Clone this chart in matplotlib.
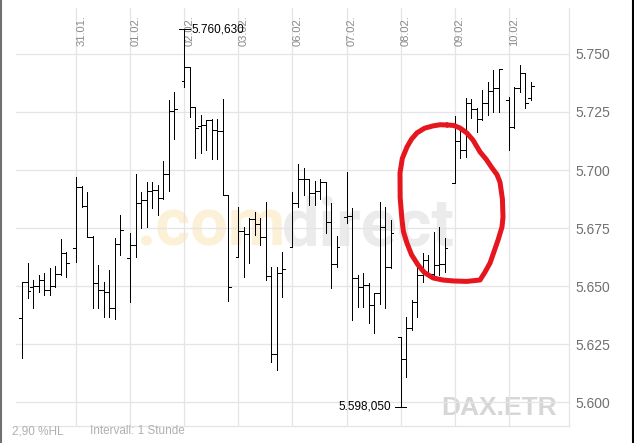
import numpy as np
import matplotlib
matplotlib.use("Agg")
import matplotlib.pyplot as plt
from matplotlib.lines import Line2D
import matplotlib.transforms as mtrans

plt.rcParams['font.family'] = ['Liberation Sans', 'DejaVu Sans']

# hourly OHLC bars, DAX.ETR
day_labels = ["30.01.", "31.01.", "01.02.", "02.02.", "03.02.",
              "06.02.", "07.02.", "08.02.", "09.02.", "10.02."]
bars_per_day = [9, 9, 9, 9, 9, 9, 9, 9, 9, 5]

opens = [5636.1, 5651.9, 5649.7, 5650.0, 5652.6, 5648.3, 5650.0, 5655.2, 5664.4,
         5666.4, 5692.7, 5684.5, 5671.3, 5651.4, 5648.3, 5647.6, 5640.4, 5668.3,
         5661.9, 5667.7, 5685.9, 5687.1, 5691.1, 5691.4, 5687.8, 5698.3, 5725.6,
         5738.4, 5744.5, 5727.0, 5719.0, 5719.4, 5721.6, 5717.2, 5716.9, 5689.2,
         5662.4, 5673.8, 5672.3, 5678.8, 5676.7, 5671.0, 5654.5, 5620.8, 5655.6,
         5666.9, 5685.7, 5696.0, 5696.0, 5690.0, 5691.1, 5695.0, 5677.7, 5659.5,
         5679.9, 5680.2, 5653.6, 5649.7, 5650.4, 5641.8, 5646.9, 5675.3, 5658.1,
         5627.9, 5618.4, 5631.8, 5643.2, 5654.7, 5661.2, 5655.2, 5659.1, 5659.5,
         5694.3, 5712.6, 5708.6, 5728.8, 5726.3, 5721.9, 5728.8, 5734.1, 5735.2,
         5730.2, 5718.7, 5735.2, 5741.7, 5731.0]
highs = [5651.9, 5659.8, 5652.6, 5654.7, 5655.5, 5657.6, 5658.6, 5670.1, 5664.6,
         5697.0, 5693.0, 5690.7, 5671.6, 5659.1, 5651.9, 5656.9, 5670.7, 5680.6,
         5672.9, 5698.3, 5690.7, 5695.0, 5695.0, 5693.5, 5704.0, 5730.2, 5733.8,
         5760.63, 5744.5, 5727.0, 5723.7, 5721.6, 5722.0, 5722.0, 5730.5, 5689.2,
         5684.1, 5675.6, 5679.3, 5682.0, 5679.3, 5686.2, 5658.3, 5658.3, 5664.8,
         5690.7, 5702.6, 5700.7, 5696.2, 5695.4, 5696.0, 5695.0, 5685.9, 5671.6,
         5699.3, 5683.5, 5654.7, 5655.7, 5651.4, 5647.0, 5686.3, 5684.2, 5678.5,
         5628.2, 5636.8, 5644.0, 5659.8, 5664.1, 5663.4, 5673.4, 5675.6, 5670.6,
         5723.3, 5717.2, 5730.9, 5730.5, 5726.7, 5734.5, 5737.9, 5742.9, 5743.4,
         5731.6, 5735.8, 5745.3, 5741.7, 5738.1]
lows = [5618.8, 5644.7, 5640.4, 5647.6, 5646.1, 5646.1, 5649.7, 5654.7, 5653.8,
        5660.4, 5684.1, 5671.3, 5640.5, 5640.5, 5636.6, 5636.8, 5635.8, 5663.4,
        5643.2, 5662.6, 5674.9, 5675.6, 5683.5, 5680.6, 5687.5, 5691.1, 5713.2,
        5735.9, 5723.0, 5705.0, 5707.2, 5708.6, 5704.7, 5704.6, 5689.2, 5643.7,
        5662.4, 5654.0, 5659.8, 5672.0, 5667.7, 5652.6, 5617.4, 5613.8, 5645.3,
        5666.9, 5683.9, 5689.2, 5684.9, 5684.9, 5687.4, 5672.7, 5649.0, 5658.1,
        5677.0, 5635.4, 5641.1, 5641.1, 5633.9, 5629.8, 5642.2, 5640.4, 5657.6,
        5598.05, 5610.9, 5631.0, 5636.8, 5651.9, 5654.0, 5654.7, 5654.7, 5656.2,
        5694.3, 5705.0, 5705.7, 5722.3, 5716.5, 5721.6, 5723.7, 5725.1, 5725.0,
        5708.6, 5718.0, 5733.6, 5726.6, 5730.2]
closes = [5651.9, 5648.0, 5650.0, 5652.6, 5648.3, 5650.0, 5655.2, 5664.4, 5659.8,
          5692.7, 5684.5, 5671.3, 5651.4, 5648.3, 5647.6, 5640.4, 5668.3, 5674.1,
          5667.7, 5685.9, 5687.1, 5691.1, 5691.4, 5687.8, 5698.3, 5725.6, 5726.2,
          5744.5, 5727.0, 5718.0, 5719.4, 5721.6, 5717.2, 5716.9, 5689.2, 5649.4,
          5673.8, 5672.3, 5678.8, 5676.7, 5671.0, 5654.5, 5620.8, 5655.6, 5657.2,
          5685.7, 5696.0, 5696.0, 5690.0, 5691.1, 5695.0, 5677.7, 5659.5, 5666.7,
          5680.2, 5653.6, 5649.7, 5650.4, 5641.8, 5646.9, 5675.3, 5658.1, 5672.7,
          5618.4, 5631.8, 5643.2, 5654.7, 5661.2, 5655.2, 5659.1, 5659.5, 5666.3,
          5712.6, 5708.6, 5728.8, 5726.3, 5721.9, 5728.8, 5734.1, 5735.2, 5743.4,
          5718.7, 5735.2, 5741.7, 5728.9, 5736.3]

y_ticks = [5600, 5625, 5650, 5675, 5700, 5725, 5750]
high_label = "5.760,630"
low_label = "5.598,050"

# hand drawn red loop (day position, index value)
circle_x = [7.856, 7.98, 8.096, 8.22, 8.336, 8.466, 8.58, 8.688, 8.78, 8.835, 8.88, 8.891,
            8.872, 8.799, 8.72, 8.651, 8.558, 8.466, 8.22, 7.967, 7.78, 7.597, 7.44,
            7.320, 7.20, 7.116, 7.05, 7.024, 6.99, 6.987, 7.03, 7.116, 7.20, 7.301,
            7.44, 7.597, 7.73, 7.856]
circle_y = [5719.4, 5719.2, 5718.1, 5716.0, 5712.9, 5707.8, 5704.6, 5700.9, 5698.0, 5694.8,
            5687.5, 5679.7, 5675.4, 5669.8, 5664.5, 5659.9, 5656.0, 5652.6, 5652.0, 5652.2,
            5652.6, 5653.5, 5655.8, 5659.1, 5663.5, 5668.5, 5673.5, 5678.5, 5688.0, 5698.7,
            5705.0, 5709.9, 5713.3, 5716.0, 5718.0, 5719.0, 5719.5, 5719.4]

# bar positions: one slot per trading hour
step = 0.1017
x = []
for d, n in enumerate(bars_per_day):
    for i in range(n):
        x.append(d + i * step)
x = np.array(x)
half = 0.05

fig = plt.figure(figsize=(6.34, 4.43), dpi=100)
ax = fig.add_axes([16 / 634, 17 / 443, 553 / 634, 418 / 443])
ax.set_xlim(-0.111, 10.111)
ax.set_ylim(5589.7, 5769.8)

grid_col = '#e4e4e4'
ax.set_xticks(range(1, len(day_labels)))
ax.set_yticks(y_ticks)
ax.set_yticklabels([f"{v:,.0f}".replace(",", ".") for v in y_ticks])
ax.yaxis.tick_right()
ax.tick_params(axis='x', length=0, labelbottom=False)
ax.tick_params(axis='y', length=0, pad=4.5, labelsize=10, labelcolor='#707070')
ax.grid(True, color=grid_col, lw=0.9, zorder=0)
for s in ['left', 'top']:
    ax.spines[s].set_visible(False)
for s in ['right', 'bottom']:
    ax.spines[s].set_color(grid_col)
    ax.spines[s].set_linewidth(0.9)

# watermark
ax.text(0.219, 0.433, ".com", transform=ax.transAxes, fontsize=48, fontweight='bold',
        family='Roboto', color='#fcf0d6', va='baseline', ha='left', zorder=0)
ax.text(0.481, 0.433, "direct", transform=ax.transAxes, fontsize=48, fontweight='bold',
        family='Roboto', color='#ebebeb', va='baseline', ha='left', zorder=0)
ax.text(0.978, 0.026, "DAX.ETR", transform=ax.transAxes, fontsize=19, fontweight='bold',
        color='#d6d6d6', va='baseline', ha='right', zorder=0)

# date labels at the top, inside the plot
trans = mtrans.blended_transform_factory(ax.transData, ax.transAxes)
for d, lab in enumerate(day_labels):
    if d == 0:
        continue
    ax.text(d + 0.005, 0.983, lab, transform=trans, rotation=90, ha='left', va='top',
            fontsize=8, color='#8a8a8a')

# OHLC bars
ax.vlines(x, lows, highs, color='black', lw=0.6, zorder=3, antialiased=False)
ax.hlines(opens, x - half, x, color='black', lw=0.6, zorder=3, antialiased=False)
ax.hlines(closes, x, x + half, color='black', lw=0.6, zorder=3, antialiased=False)

# high / low markers
ih = int(np.argmax(highs))
il = int(np.argmin(lows))
ax.hlines(highs[ih], x[ih] - 0.1, x[ih] + 0.1, color='black', lw=0.6, zorder=3, antialiased=False)
ax.text(x[ih] + 0.14, highs[ih], high_label, fontsize=8.5, va='center', ha='left', zorder=4)
ax.hlines(lows[il], x[il] - 0.1, x[il] + 0.1, color='black', lw=0.6, zorder=3, antialiased=False)
ax.text(x[il] - 0.18, lows[il], low_label, fontsize=8.5, va='center', ha='right', zorder=4)

# red loop
ax.plot(circle_x, circle_y, color='#e5161d', lw=3.6, solid_joinstyle='round',
        solid_capstyle='round', zorder=6)

# footer
fig.text(12 / 634, 1 - 431 / 443, "2,90 %HL", fontsize=8.5, color='#b0b0b0', va='center')
fig.text(90 / 634, 1 - 431 / 443, "Intervall: 1 Stunde", fontsize=8.5, color='#b0b0b0', va='center')

# image frame edges
fig.add_artist(Line2D([0.8 / 634, 0.8 / 634], [0, 1], color='#707070', lw=1.5, transform=fig.transFigure))
fig.add_artist(Line2D([632.5 / 634, 632.5 / 634], [0, 1], color='black', lw=1.5, transform=fig.transFigure))

plt.savefig('out.png', dpi=100)
